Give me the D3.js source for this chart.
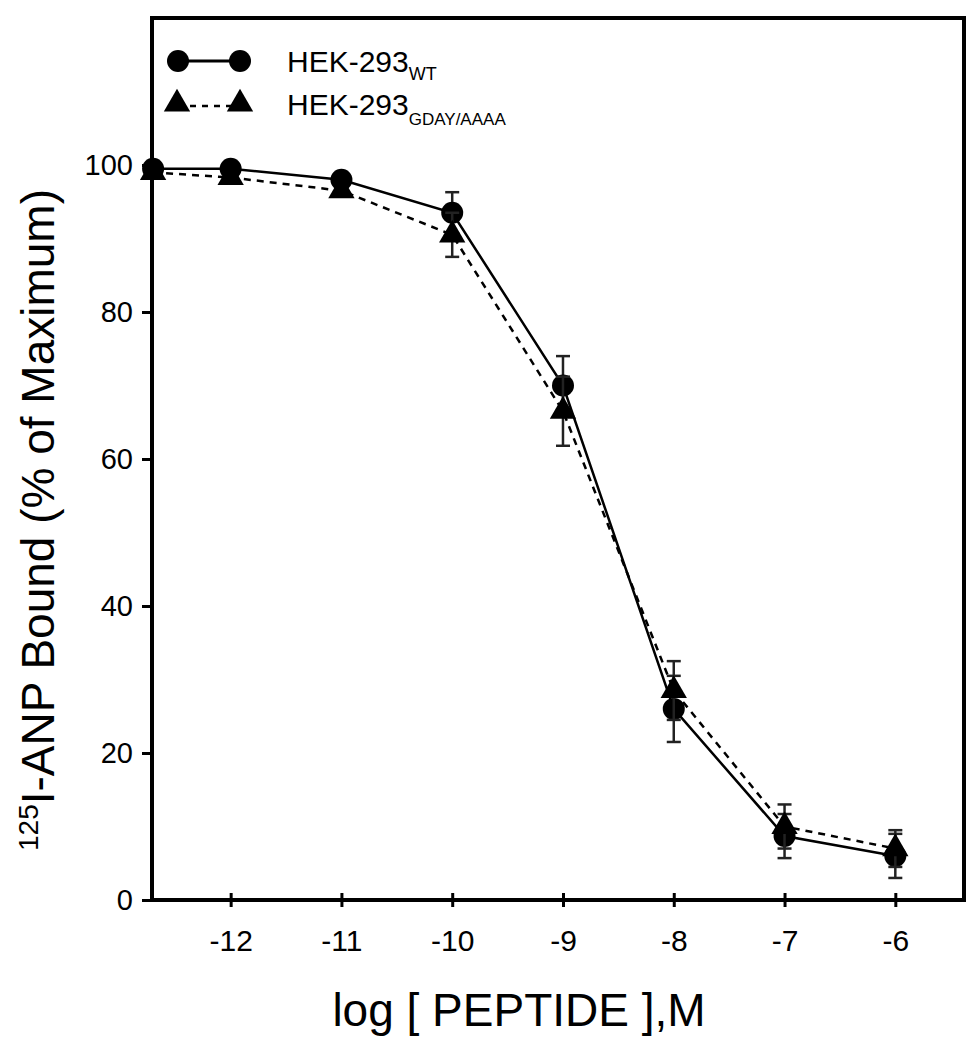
<!DOCTYPE html>
<html>
<head>
<meta charset="utf-8">
<script src="https://cdn.jsdelivr.net/npm/d3@7"></script>
<style>
  body { margin: 0; background: #fff; }
  svg { display: block; }
  text { font-family: "Liberation Sans", Arial, sans-serif; fill: #000; }
</style>
</head>
<body>
<svg id="chart" width="978" height="1050"></svg>
<script>
// log concentration of peptide
const logConc = [-12.7, -12, -11, -10, -9, -8, -7, -6];

// HEK-293 WT, % of maximum bound
const wtMean = [99.5, 99.5, 98, 93.5, 70, 26, 8.7, 6];
const wtErr = [0, 0, 0, 2.8, 4, 4.5, 3, 3];

// HEK-293 GDAY/AAAA
const mutMean = [99, 98.3, 96.5, 90.5, 66.5, 28.5, 10, 7];
const mutErr = [0, 0, 0, 3, 4.7, 4, 3, 2.5];

const xTicks = [-12, -11, -10, -9, -8, -7, -6];
const yTicks = [0, 20, 40, 60, 80, 100];

const plotLeft = 152, plotRight = 964, plotTop = 18, plotBottom = 900;

let svg = d3.select("#chart");

let x = d3.scaleLinear().domain([-12.71, -5.38]).range([plotLeft, plotRight]);
let y = d3.scaleLinear().domain([0, 120]).range([plotBottom, plotTop]);

// frame
svg.append("rect")
    .attr("x", plotLeft).attr("y", plotTop)
    .attr("width", plotRight - plotLeft).attr("height", plotBottom - plotTop)
    .attr("fill", "none").attr("stroke", "#000").attr("stroke-width", 4);

// x axis, ticks crossing the line
let xAxis = svg.append("g")
    .attr("transform", "translate(0," + plotBottom + ")")
    .call(d3.axisBottom(x).tickValues(xTicks).tickSize(0).tickPadding(41).tickFormat(d => d));
xAxis.select(".domain").remove();
xAxis.selectAll(".tick line").attr("y1", -7).attr("y2", 7)
    .attr("stroke", "#000").attr("stroke-width", 3);
xAxis.selectAll(".tick text").attr("font-size", 30).attr("dy", "0.32em");

// y axis, ticks outward
let yAxis = svg.append("g")
    .attr("transform", "translate(" + plotLeft + ",0)")
    .call(d3.axisLeft(y).tickValues(yTicks).tickSize(10).tickPadding(9));
yAxis.select(".domain").remove();
yAxis.selectAll(".tick line").attr("stroke", "#000").attr("stroke-width", 3);
yAxis.selectAll(".tick text").attr("font-size", 29);

// axis titles
svg.append("text")
    .attr("x", 519).attr("y", 1026)
    .attr("text-anchor", "middle")
    .attr("font-size", 46)
    .text("log [ PEPTIDE ],M");

let yTitle = svg.append("text")
    .attr("transform", "translate(54,520) rotate(-90)")
    .attr("text-anchor", "middle")
    .attr("font-size", 46);
yTitle.append("tspan").attr("font-size", 28).attr("dy", -16).text("125");
yTitle.append("tspan").attr("dy", 16).text("I-ANP Bound (% of Maximum)");

// series
let series = [
    {mean: wtMean, err: wtErr, dash: null, symbol: "circle"},
    {mean: mutMean, err: mutErr, dash: "7,6", symbol: "triangle"}
];

let line = d3.line()
    .x(function (d) { return x(d.x); })
    .y(function (d) { return y(d.y); });

let circleSym = d3.symbol().type(d3.symbolCircle).size(Math.PI * 11 * 11);
let triSym = d3.symbol().type(d3.symbolTriangle).size(300);

series.forEach(function (s) {
    let pts = logConc.map(function (v, i) {
        return {x: v, y: s.mean[i], e: s.err[i]};
    });

    svg.append("path")
        .datum(pts)
        .attr("d", line)
        .attr("fill", "none")
        .attr("stroke", "#000")
        .attr("stroke-width", 2.5)
        .attr("stroke-dasharray", s.dash);

    let eb = svg.append("g").selectAll("g")
        .data(pts.filter(function (d) { return d.e > 0; }))
        .enter().append("g")
        .attr("stroke", "#222")
        .attr("stroke-width", 2.5);
    eb.append("line")
        .attr("x1", d => x(d.x)).attr("x2", d => x(d.x))
        .attr("y1", d => y(d.y - d.e)).attr("y2", d => y(d.y + d.e));
    eb.append("line")
        .attr("x1", d => x(d.x) - 7).attr("x2", d => x(d.x) + 7)
        .attr("y1", d => y(d.y + d.e)).attr("y2", d => y(d.y + d.e));
    eb.append("line")
        .attr("x1", d => x(d.x) - 7).attr("x2", d => x(d.x) + 7)
        .attr("y1", d => y(d.y - d.e)).attr("y2", d => y(d.y - d.e));

    svg.append("g").selectAll("path")
        .data(pts)
        .enter().append("path")
        .attr("d", s.symbol === "circle" ? circleSym : triSym)
        .attr("transform", d => "translate(" + x(d.x) + "," + y(d.y) + ")")
        .attr("fill", "#000");
});

// legend
let legend = svg.append("g");
legend.append("line")
    .attr("x1", 178).attr("x2", 240).attr("y1", 61).attr("y2", 61)
    .attr("stroke", "#000").attr("stroke-width", 3);
legend.selectAll(".lc").data([178, 240]).enter().append("path")
    .attr("d", circleSym)
    .attr("transform", d => "translate(" + d + ",61)");
legend.append("line")
    .attr("x1", 178).attr("x2", 240).attr("y1", 106).attr("y2", 106)
    .attr("stroke", "#000").attr("stroke-width", 2.5).attr("stroke-dasharray", "6,6");
legend.selectAll(".lt").data([177, 240]).enter().append("path")
    .attr("d", triSym)
    .attr("transform", d => "translate(" + d + ",104)");

let l1 = legend.append("text").attr("x", 287).attr("y", 72).attr("font-size", 30);
l1.append("tspan").text("HEK-293");
l1.append("tspan").attr("font-size", 18).attr("dy", 8).text("WT");
let l2 = legend.append("text").attr("x", 287).attr("y", 115).attr("font-size", 30);
l2.append("tspan").text("HEK-293");
l2.append("tspan").attr("font-size", 17).attr("dy", 10).text("GDAY/AAAA");
</script>
</body>
</html>
